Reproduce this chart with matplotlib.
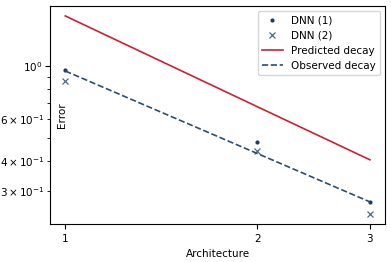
import numpy as np
import matplotlib
matplotlib.use("Agg")
import matplotlib.pyplot as plt
from matplotlib.ticker import ScalarFormatter, NullLocator

# Data
arch = [1, 2, 3]
dnn1 = [0.96, 0.48, 0.27]
dnn2 = [0.865, 0.44, 0.24]
predicted = [1.62, 0.675, 0.405]
observed = [0.953, 0.43, 0.27]

fig = plt.figure(figsize=(3.91, 2.62), dpi=100)
ax = fig.add_axes([0.128, 0.145, 0.857, 0.832])

ax.plot(arch, dnn1, '.', color='#1f3a5f', markersize=4, label='DNN (1)')
ax.plot(arch, dnn2, 'x', color='#4a6a8c', markersize=5, markeredgewidth=0.9, label='DNN (2)')
ax.plot(arch, predicted, '-', color='#d0202f', linewidth=1.2, label='Predicted decay')
ax.plot(arch, observed, '--', color='#2e4d6e', linewidth=1.2, label='Observed decay')

ax.set_xscale('log')
ax.set_yscale('log')
ax.set_xticks(arch)
ax.xaxis.set_major_formatter(ScalarFormatter())
ax.xaxis.set_minor_locator(NullLocator())
ax.tick_params(which='both', labelsize=7.5)
ax.tick_params(axis='y', which='both', pad=2)

ax.set_xlabel('Architecture', fontsize=7.5)
ax.set_ylabel('Error', fontsize=7.5)
ax.yaxis.set_label_coords(0.05, 0.5)

ax.legend(loc='upper right', fontsize=7.5)

fig.savefig('out.png', dpi=100)
